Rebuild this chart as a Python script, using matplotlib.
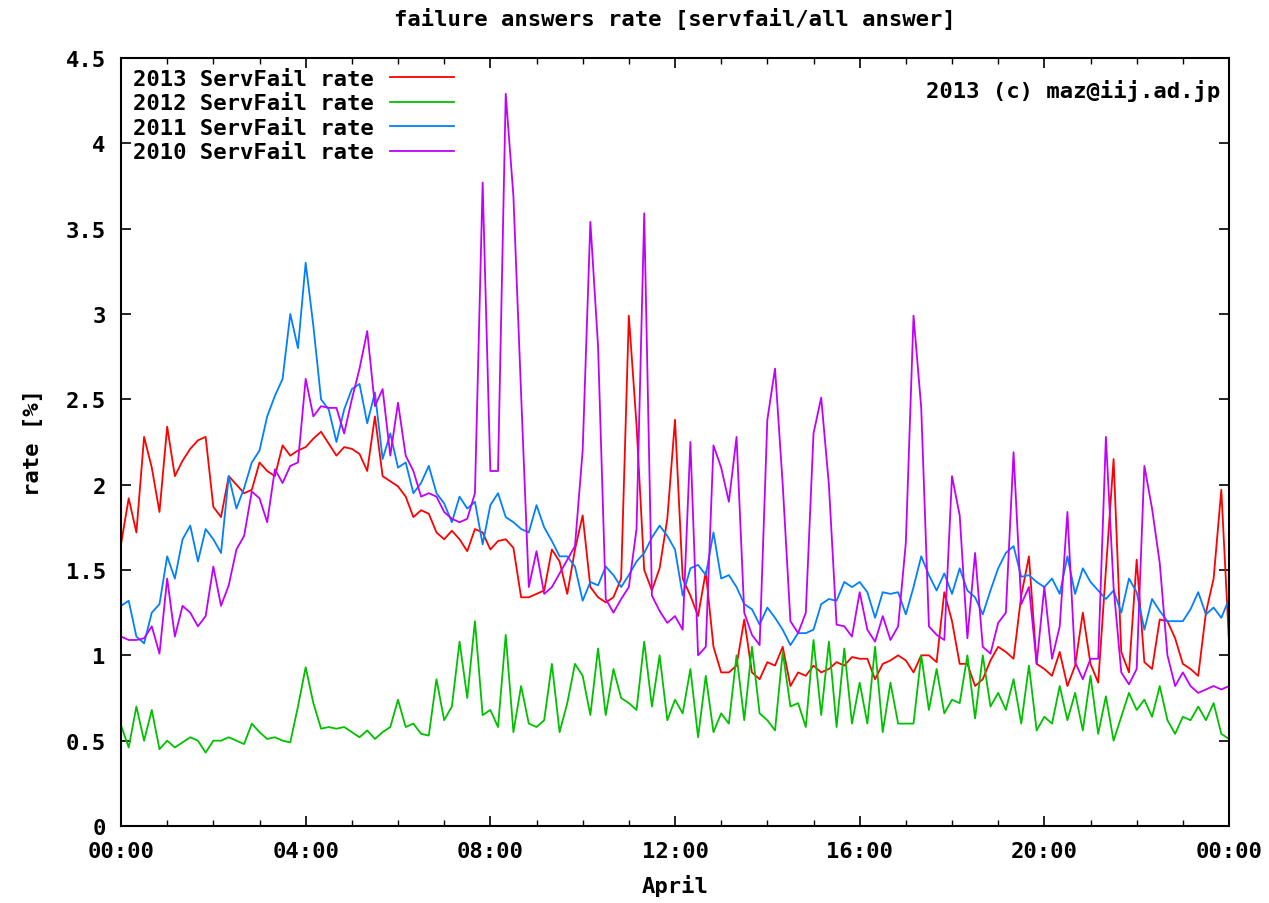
import numpy as np
import matplotlib
matplotlib.use('Agg')
import matplotlib.pyplot as plt

# 10-minute samples, 00:00 .. 24:00 (hours)
hours = np.arange(145) / 6.0

rate_2013 = [1.65, 1.92, 1.72, 2.28, 2.10, 1.84, 2.34, 2.05, 2.14, 2.21, 2.26, 2.28,
             1.87, 1.81, 2.05, 2.00, 1.95, 1.97, 2.13, 2.08, 2.05, 2.23, 2.17, 2.20,
             2.22, 2.27, 2.31, 2.24, 2.17, 2.22, 2.21, 2.18, 2.08, 2.40, 2.05, 2.02,
             1.99, 1.93, 1.81, 1.85, 1.83, 1.72, 1.68, 1.73, 1.68, 1.61, 1.74, 1.72,
             1.62, 1.67, 1.68, 1.63, 1.34, 1.34, 1.36, 1.38, 1.62, 1.55, 1.36, 1.62,
             1.82, 1.40, 1.34, 1.31, 1.34, 1.45, 2.99, 2.35, 1.50, 1.38, 1.51, 1.80,
             2.38, 1.45, 1.35, 1.23, 1.49, 1.05, 0.90, 0.90, 0.94, 1.21, 0.90, 0.86,
             0.96, 0.94, 1.05, 0.82, 0.90, 0.88, 0.94, 0.90, 0.92, 0.96, 0.94, 0.99,
             0.98, 0.98, 0.86, 0.95, 0.97, 1.00, 0.97, 0.90, 1.00, 1.00, 0.96, 1.37,
             1.20, 0.95, 0.95, 0.82, 0.86, 0.97, 1.05, 1.02, 0.98, 1.35, 1.58, 0.95,
             0.92, 0.88, 1.02, 0.82, 0.94, 1.25, 0.95, 0.84, 1.50, 2.15, 1.02, 0.90,
             1.56, 0.96, 0.92, 1.21, 1.20, 1.10, 0.95, 0.92, 0.88, 1.25, 1.45, 1.97,
             1.08]

rate_2012 = [0.59, 0.46, 0.70, 0.50, 0.68, 0.45, 0.50, 0.46, 0.49, 0.52, 0.50, 0.43,
             0.50, 0.50, 0.52, 0.50, 0.48, 0.60, 0.55, 0.51, 0.52, 0.50, 0.49, 0.70,
             0.93, 0.72, 0.57, 0.58, 0.57, 0.58, 0.55, 0.52, 0.56, 0.51, 0.55, 0.58,
             0.74, 0.58, 0.60, 0.54, 0.53, 0.86, 0.62, 0.70, 1.08, 0.75, 1.20, 0.65,
             0.68, 0.58, 1.12, 0.55, 0.82, 0.60, 0.58, 0.62, 0.95, 0.55, 0.72, 0.95,
             0.88, 0.65, 1.04, 0.65, 0.92, 0.75, 0.72, 0.68, 1.08, 0.70, 1.00, 0.62,
             0.74, 0.66, 0.92, 0.52, 0.88, 0.55, 0.66, 0.60, 1.00, 0.62, 1.05, 0.66,
             0.62, 0.56, 1.02, 0.70, 0.72, 0.58, 1.09, 0.65, 1.08, 0.58, 1.04, 0.60,
             0.84, 0.60, 1.05, 0.55, 0.84, 0.60, 0.60, 0.60, 1.00, 0.68, 0.92, 0.66,
             0.74, 0.72, 1.00, 0.63, 1.00, 0.70, 0.78, 0.68, 0.86, 0.60, 0.94, 0.56,
             0.64, 0.60, 0.82, 0.62, 0.78, 0.56, 0.88, 0.54, 0.76, 0.50, 0.64, 0.78,
             0.68, 0.74, 0.64, 0.82, 0.62, 0.54, 0.64, 0.62, 0.70, 0.62, 0.72, 0.54,
             0.51]

rate_2011 = [1.29, 1.32, 1.11, 1.07, 1.25, 1.30, 1.58, 1.45, 1.68, 1.76, 1.55, 1.74,
             1.68, 1.60, 2.05, 1.86, 1.98, 2.13, 2.20, 2.40, 2.52, 2.62, 3.00, 2.80,
             3.30, 2.93, 2.50, 2.44, 2.25, 2.44, 2.56, 2.59, 2.36, 2.54, 2.15, 2.30,
             2.10, 2.13, 1.95, 2.01, 2.11, 1.95, 1.89, 1.78, 1.93, 1.86, 1.90, 1.65,
             1.88, 1.95, 1.81, 1.78, 1.74, 1.72, 1.88, 1.75, 1.67, 1.58, 1.58, 1.52,
             1.32, 1.43, 1.41, 1.52, 1.47, 1.40, 1.47, 1.55, 1.60, 1.69, 1.76, 1.70,
             1.62, 1.35, 1.51, 1.53, 1.47, 1.72, 1.45, 1.47, 1.40, 1.30, 1.27, 1.18,
             1.28, 1.22, 1.15, 1.06, 1.13, 1.13, 1.15, 1.30, 1.33, 1.32, 1.43, 1.40,
             1.43, 1.37, 1.22, 1.37, 1.36, 1.37, 1.24, 1.40, 1.58, 1.47, 1.38, 1.48,
             1.36, 1.51, 1.38, 1.34, 1.24, 1.38, 1.51, 1.60, 1.64, 1.46, 1.47, 1.43,
             1.40, 1.45, 1.36, 1.58, 1.36, 1.51, 1.43, 1.38, 1.33, 1.38, 1.25, 1.45,
             1.37, 1.15, 1.33, 1.26, 1.20, 1.20, 1.20, 1.27, 1.37, 1.24, 1.28, 1.22,
             1.33]

rate_2010 = [1.11, 1.09, 1.09, 1.10, 1.17, 1.01, 1.45, 1.11, 1.29, 1.25, 1.17, 1.23,
             1.52, 1.29, 1.41, 1.62, 1.70, 1.96, 1.92, 1.78, 2.09, 2.01, 2.11, 2.13,
             2.62, 2.40, 2.46, 2.45, 2.45, 2.30, 2.50, 2.68, 2.90, 2.46, 2.56, 2.17,
             2.48, 2.17, 2.08, 1.93, 1.95, 1.93, 1.84, 1.80, 1.78, 1.80, 1.95, 3.77,
             2.08, 2.08, 4.29, 3.69, 2.53, 1.40, 1.61, 1.36, 1.40, 1.48, 1.56, 1.64,
             2.20, 3.54, 2.81, 1.33, 1.25, 1.33, 1.40, 1.74, 3.59, 1.35, 1.26, 1.19,
             1.23, 1.15, 2.25, 1.00, 1.05, 2.23, 2.10, 1.90, 2.28, 1.25, 1.12, 1.06,
             2.38, 2.68, 2.00, 1.20, 1.13, 1.25, 2.30, 2.51, 2.00, 1.18, 1.17, 1.11,
             1.37, 1.15, 1.08, 1.23, 1.09, 1.17, 1.66, 2.99, 2.45, 1.17, 1.12, 1.09,
             2.05, 1.82, 1.10, 1.60, 1.05, 1.01, 1.19, 1.25, 2.19, 1.30, 1.40, 0.95,
             1.40, 0.98, 1.17, 1.84, 0.96, 0.86, 0.98, 0.98, 2.28, 1.40, 0.90, 0.83,
             0.92, 2.11, 1.86, 1.54, 1.00, 0.82, 0.90, 0.82, 0.78, 0.80, 0.82, 0.80,
             0.82]

series = [('2013 ServFail rate', rate_2013, '#ff0000'),
          ('2012 ServFail rate', rate_2012, '#00c000'),
          ('2011 ServFail rate', rate_2011, '#0080ff'),
          ('2010 ServFail rate', rate_2010, '#c000ff')]

xtick_pos = [0, 4, 8, 12, 16, 20, 24]
xtick_labels = ['00:00', '04:00', '08:00', '12:00', '16:00', '20:00', '00:00']
ytick_pos = [0, 0.5, 1, 1.5, 2, 2.5, 3, 3.5, 4, 4.5]
ytick_labels = ['0', '0.5', '1', '1.5', '2', '2.5', '3', '3.5', '4', '4.5']

font = {'family': 'DejaVu Sans Mono', 'weight': 'bold', 'size': 16}

fig = plt.figure(figsize=(12.69, 9.04), dpi=100)
ax = fig.add_axes([121 / 1269, 1 - 827 / 904, 1108 / 1269, 768 / 904])

for label, values, color in series:
    ax.plot(hours, values, color=color, linewidth=1.3, label=label)

ax.set_xlim(0, 24)
ax.set_ylim(0, 4.5)
ax.set_xticks(xtick_pos)
ax.set_xticklabels(xtick_labels, fontdict=font)
ax.set_xticks(range(25), minor=True)
ax.set_yticks(ytick_pos)
ax.set_yticklabels(ytick_labels, fontdict=font)
ax.tick_params(which='major', direction='in', length=7, width=1.2, top=True, right=True, pad=11)
ax.tick_params(which='minor', direction='in', length=4, width=1.0, top=True, right=True)
for s in ax.spines.values():
    s.set_linewidth(1.5)

ax.set_title('failure answers rate [servfail/all answer]', fontdict=font, pad=24)
ax.set_xlabel('April', fontdict=font, labelpad=9)
ax.set_ylabel('rate [%]', fontdict=font, labelpad=16)

ax.text(0.992, 0.958, '2013 (c) maz@iij.ad.jp', transform=ax.transAxes,
        ha='right', va='center', fontdict=font)

ax.legend(loc='upper left', bbox_to_anchor=(-0.003, 1.006), frameon=False,
          markerfirst=False, handlelength=2.9, handletextpad=0.72,
          labelspacing=0.2, borderaxespad=0.3,
          prop={'family': 'DejaVu Sans Mono', 'weight': 'bold', 'size': 16})

fig.savefig('out.png', dpi=100)
